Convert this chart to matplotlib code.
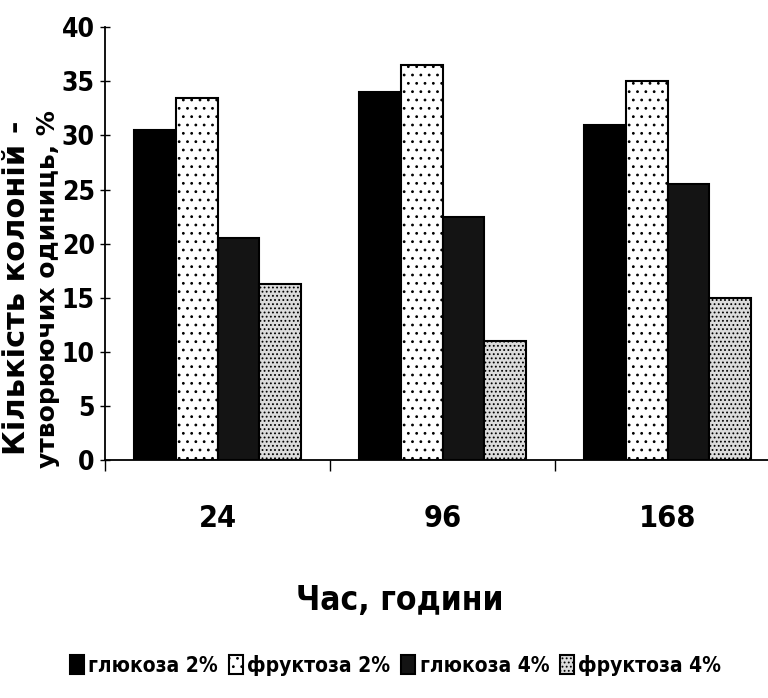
import numpy as np
import matplotlib.pyplot as plt
from matplotlib.ticker import FixedLocator

# дані з рисунка
hours = ['24', '96', '168']
series = ['глюкоза 2%', 'фруктоза 2%', 'глюкоза 4%', 'фруктоза 4%']
glucose2 = [30.5, 34.0, 31.0]
fructose2 = [33.5, 36.5, 35.0]
glucose4 = [20.5, 22.5, 25.5]
fructose4 = [16.3, 11.0, 15.0]

plt.rcParams['font.family'] = ['DejaVu Sans']
plt.rcParams['font.stretch'] = 'condensed'
plt.rcParams['hatch.linewidth'] = 0.8

fig = plt.figure(figsize=(7.68, 6.98), dpi=100)
ax = fig.add_axes([0.137, 0.341, 0.87, 0.62])

x = np.arange(len(hours))
w = 0.185
styles = [
    dict(color='black', hatch=None),
    dict(color='white', hatch='..'),
    dict(color='#141414', hatch=None),
    dict(color='#dcdcdc', hatch='....'),
]
for i, (vals, st) in enumerate(zip([glucose2, fructose2, glucose4, fructose4], styles)):
    ax.bar(x + (i - 1.5) * w, vals, w, facecolor=st['color'], hatch=st['hatch'],
           edgecolor='black', linewidth=1.5, label=series[i])

ax.set_xlim(-0.5, 2.47)
ax.set_ylim(0, 40)
ax.set_yticks(range(0, 41, 5))
ax.set_xticks(x)
ax.set_xticklabels(hours)
ax.xaxis.set_minor_locator(FixedLocator([-0.5, 0.5, 1.5]))
ax.tick_params(axis='x', which='major', length=0, pad=32, labelsize=22)
ax.tick_params(axis='x', which='minor', length=8, direction='out', width=1)
ax.tick_params(axis='y', length=7, direction='inout', width=1, labelsize=19, pad=4)
for lab in ax.get_xticklabels() + ax.get_yticklabels():
    lab.set_fontweight('bold')

for s in ['top', 'right']:
    ax.spines[s].set_visible(False)
ax.spines['left'].set_linewidth(1.3)
ax.spines['bottom'].set_linewidth(1.3)

fig.text(0.52, 0.14, 'Час, години', ha='center', va='center', fontsize=24, fontweight='bold')

# підпис осі y у два рядки
fig.text(0.021, 0.348, 'Кількість колоній -', rotation=90, ha='center', va='bottom',
         fontsize=22, fontweight='bold', fontstretch='normal')
fig.text(0.063, 0.33, 'утворюючих одиниць, %', rotation=90, ha='center', va='bottom',
         fontsize=18, fontweight='bold', fontstretch='normal')

fig.legend(loc='center', bbox_to_anchor=(0.515, 0.047), ncol=4, frameon=False,
           prop=dict(weight='bold', size=15, stretch='condensed'),
           handlelength=0.7, handleheight=1.0, handletextpad=0.2, columnspacing=0.5)

fig.savefig('out.png', dpi=100)
